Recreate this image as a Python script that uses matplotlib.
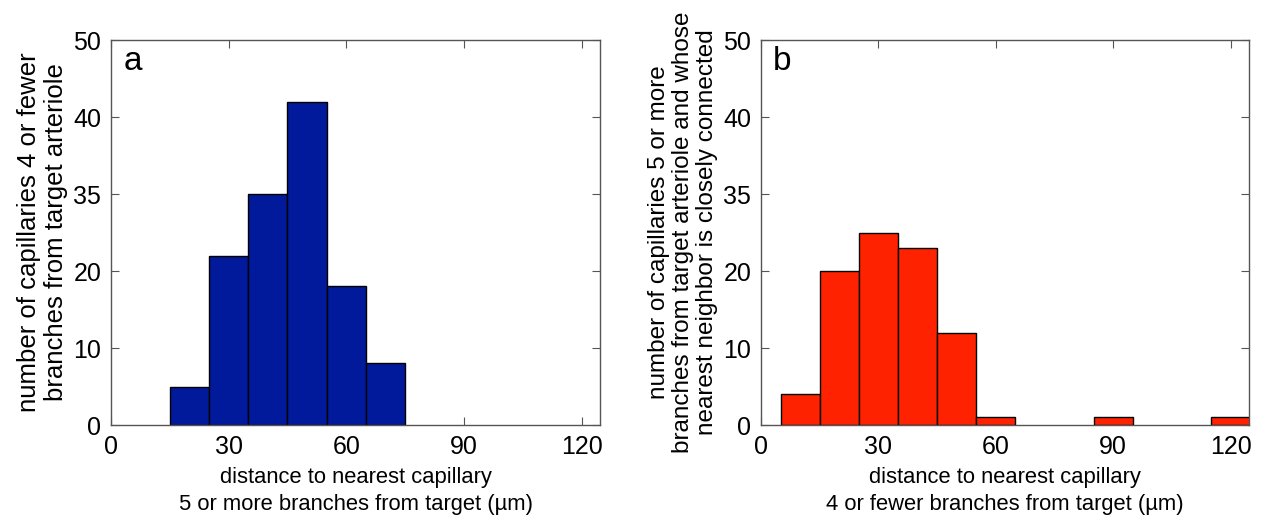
import matplotlib.pyplot as plt

plt.rcParams['font.family'] = ['Liberation Sans', 'DejaVu Sans']

# panel a: 5 or more branches from target
edges_a = [15, 25, 35, 45, 55, 65, 75]
counts_a = [5, 22, 30, 42, 18, 8]

# panel b: 4 or fewer branches from target
edges_b = [5, 15, 25, 35, 45, 55, 65, 75, 85, 95, 105, 115, 125]
counts_b = [4, 20, 25, 23, 12, 1, 0, 0, 1, 0, 0, 1]

xticks = [0, 30, 60, 90, 120]
yticks = [0, 10, 20, 30, 40, 50]
ytick_labels = ['0', '10', '20', '35', '40', '50']

ylabel_a = 'number of capillaries 4 or fewer\nbranches from target arteriole'
ylabel_b = ('number of capillaries 5 or more\nbranches from target arteriole and whose\n'
            'nearest neighbor is closely connected')
xlabel_a = 'distance to nearest capillary\n5 or more branches from target (\u00b5m)'
xlabel_b = 'distance to nearest capillary\n4 or fewer branches from target (\u00b5m)'


def draw(ax, edges, counts, color, letter, xlabel, ylabel, ysize):
    lefts = edges[:-1]
    widths = [edges[i + 1] - edges[i] for i in range(len(lefts))]
    # skip empty bins so no edge line is drawn on the axis
    for x, w, c in zip(lefts, widths, counts):
        if c > 0:
            ax.bar(x, c, width=w, align='edge', color=color,
                   edgecolor='black', linewidth=1.0, zorder=2)
    ax.set_xlim(0, 124.7)
    ax.set_ylim(0, 50)
    ax.set_xticks(xticks)
    ax.set_yticks(yticks)
    ax.set_yticklabels(ytick_labels)
    ax.tick_params(direction='in', length=6, width=0.8, color='#555555',
                   top=True, right=True, labelsize=18, pad=7)
    for s in ax.spines.values():
        s.set_color('#555555')
        s.set_linewidth(1.0)
    ax.text(0.025, 0.985, letter, transform=ax.transAxes, fontsize=24,
            va='top', ha='left')
    ax.set_xlabel(xlabel, fontsize=15.8, linespacing=1.4, labelpad=6)
    ax.set_ylabel(ylabel, fontsize=ysize, linespacing=1.12, labelpad=4)


fig = plt.figure(figsize=(12.69, 5.22), dpi=100)
ax1 = fig.add_axes([0.0875, 0.1858, 0.3853, 0.7375])
ax2 = fig.add_axes([0.5997, 0.1858, 0.3846, 0.7375])

draw(ax1, edges_a, counts_a, '#001a9b', 'a', xlabel_a, ylabel_a, 18.5)
draw(ax2, edges_b, counts_b, '#ff2200', 'b', xlabel_b, ylabel_b, 17.5)

fig.savefig('out.png', dpi=100)
